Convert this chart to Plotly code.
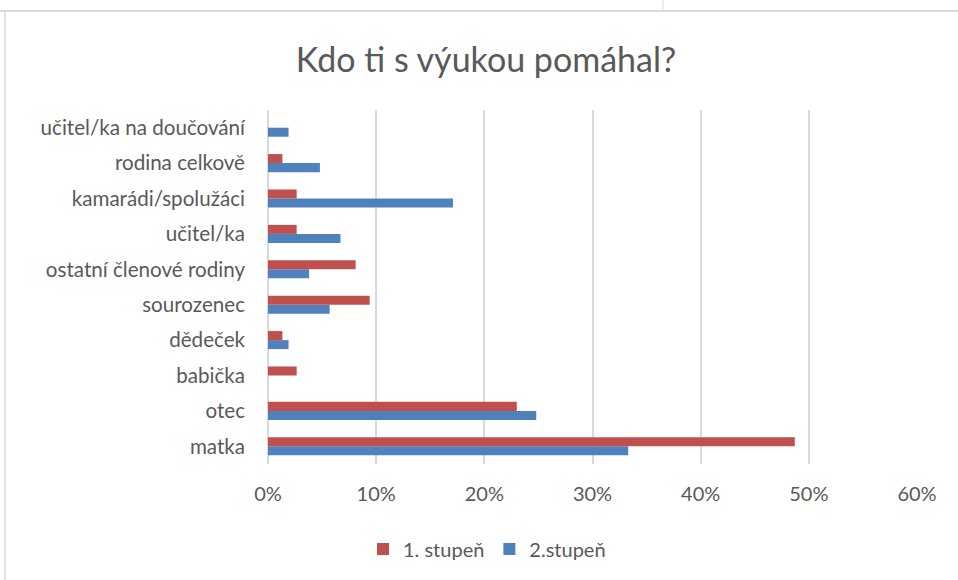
import plotly.graph_objects as go

categories = ["matka", "otec", "babička", "dědeček", "sourozenec",
              "ostatní členové rodiny", "učitel/ka", "kamarádi/spolužáci",
              "rodina celkově", "učitel/ka na doučování"]
stupen1 = [0.487, 0.230, 0.0265, 0.0133, 0.094, 0.081, 0.0265, 0.0265, 0.0133, 0.0]
stupen2 = [0.333, 0.248, 0.0, 0.019, 0.057, 0.038, 0.067, 0.171, 0.048, 0.019]
x_ticks = [0, 0.1, 0.2, 0.3, 0.4, 0.5, 0.6]

FONT = "Lato"
GREY = "#595959"

fig = go.Figure()

# blue first so that plotly puts it below the red bar in each group
fig.add_trace(go.Bar(
    y=categories,
    x=stupen2,
    name="2.stupeň",
    orientation="h",
    marker=dict(color="#4F81BD", line=dict(width=0))))

fig.add_trace(go.Bar(
    y=categories,
    x=stupen1,
    name="1. stupeň",
    orientation="h",
    marker=dict(color="#C0504D", line=dict(width=0))))

L, R, T, B = 268, 41, 110, 116
pw = 958 - L - R
ph = 580 - T - B


def px_x(p):
    return (p - L) / pw


def px_y(p):
    return (580 - B - p) / ph


line_col = "#D9D9D9"
shapes = [
    dict(type="line", xref="paper", yref="paper",
         x0=px_x(0), x1=px_x(958), y0=px_y(11), y1=px_y(11),
         line=dict(color=line_col, width=2)),
    dict(type="line", xref="paper", yref="paper",
         x0=px_x(663), x1=px_x(663), y0=px_y(0), y1=px_y(11),
         line=dict(color=line_col, width=1)),
    dict(type="line", xref="paper", yref="paper",
         x0=px_x(5), x1=px_x(5), y0=px_y(11), y1=px_y(580),
         line=dict(color=line_col, width=1.5)),
]

fig.update_layout(
    width=958,
    height=580,
    margin=dict(l=L, r=R, t=T, b=B),
    paper_bgcolor="white",
    plot_bgcolor="white",
    barmode="group",
    bargap=0.49,
    bargroupgap=0,
    font=dict(family=FONT, color=GREY, size=20),
    title=dict(text="Kdo ti s výukou pomáhal?", x=486 / 958, xref="container",
               xanchor="center", y=1 - 60 / 580, yanchor="middle",
               font=dict(family=FONT, size=34, color=GREY)),
    legend=dict(orientation="h", x=487 / 958, xanchor="center",
                xref="container", y=(580 - 549) / 580, yref="container",
                yanchor="middle", traceorder="reversed",
                font=dict(family=FONT, size=20, color=GREY)),
    shapes=shapes,
)

fig.update_xaxes(
    range=[0, 0.6],
    tickvals=x_ticks,
    tickformat=".0%",
    showgrid=True,
    gridcolor=line_col,
    gridwidth=1.5,
    zeroline=True,
    zerolinecolor=line_col,
    zerolinewidth=1.5,
    ticks="",
    ticklabelstandoff=16,
    tickfont=dict(family=FONT, size=20, color=GREY),
    fixedrange=True)

fig.update_yaxes(
    type="category",
    categoryorder="array",
    categoryarray=categories,
    showgrid=False,
    ticks="",
    ticklabelstandoff=22,
    tickfont=dict(family=FONT, size=20.6, color=GREY),
    fixedrange=True)

# the page body has a default 8px margin; drop it so the chart sits at 0,0
fig.write_html("out.html", config={"displayModeBar": False},
               post_script="document.body.style.margin='0';")
